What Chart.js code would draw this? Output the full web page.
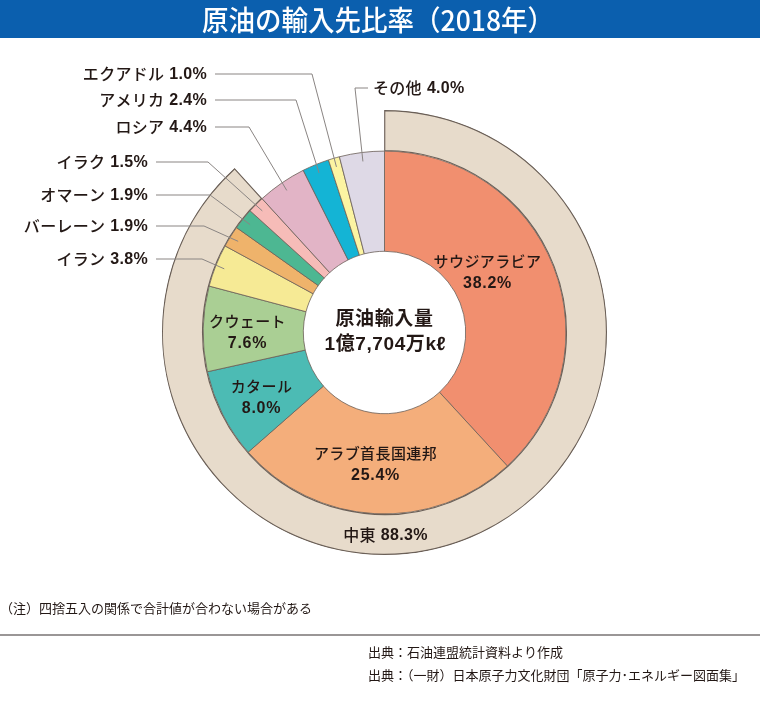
<!DOCTYPE html>
<html lang="ja">
<head>
<meta charset="utf-8">
<title>原油の輸入先比率（2018年）</title>
<script src="https://cdn.jsdelivr.net/npm/chart.js@4/dist/chart.umd.min.js"></script>
<style>
  html, body { margin: 0; padding: 0; background: #fff; }
  #wrap { position: relative; width: 760px; height: 707px; }
</style>
</head>
<body>
<div id="wrap"><canvas id="oilChart" width="760" height="707"></canvas></div>
<script>
'use strict';

// data
const countries = ['サウジアラビア', 'アラブ首長国連邦', 'カタール', 'クウェート', 'イラン', 'バーレーン', 'オマーン', 'イラク', 'ロシア', 'アメリカ', 'エクアドル', 'その他'];
const shares = [38.2, 25.4, 8.0, 7.6, 3.8, 1.9, 1.9, 1.5, 4.4, 2.4, 1.0, 4.0];
const regionLabels = ['中東', ''];
const regionShares = [88.3, 11.8];

const titleText = '原油の輸入先比率（2018年）';
const centerLines = ['原油輸入量', '1億7,704万kℓ'];
const noteText = '（注）四捨五入の関係で合計値が合わない場合がある';
const sourceLines = ['出典：石油連盟統計資料より作成', '出典：（一財）日本原子力文化財団「原子力･エネルギー図面集」'];

// colours
const sliceColors = ['#F18F6F', '#F4AE7B', '#4CBBB4', '#AACF94', '#F6EA95', '#EFB36B', '#4DB792', '#F6BCB8', '#E2B4C6', '#14B4D5', '#FCF4A2', '#DED9E6'];
const ringColor = '#E7DBCB';
const edgeColor = '#6B6058';
const textColor = '#231815';
const lineColor = '#8A8583';

// label layout (index into countries -> label position)
const insideLabels = [
    { i: 0, dx: 103, dy: -71 },
    { i: 1, dx: -9, dy: 121 },
    { i: 2, dx: -123, dy: 54 },
    { i: 3, dx: -137, dy: -11 }
];
const outsideLabels = [
    { i: 10, right: 207, y: 74, elbow: 312 },
    { i: 9, right: 207, y: 100, elbow: 296 },
    { i: 8, right: 207, y: 127, elbow: 249 },
    { i: 7, right: 148, y: 162, elbow: 208 },
    { i: 6, right: 148, y: 195, elbow: 210 },
    { i: 5, right: 148, y: 226, elbow: 204 },
    { i: 4, right: 148, y: 259, elbow: 202 }
];
const otherLabel = { i: 11, left: 373, y: 88, elbow: 355 };

const pct = v => v.toFixed(1) + '%';
const cjkFont = (size, weight) => `${weight || 500} ${size}px "Noto Sans CJK JP", sans-serif`;
const numFont = (size, weight) => `${weight || 700} ${size}px "Liberation Sans", "Noto Sans CJK JP", sans-serif`;

function fitText(ctx, text, x, y, width, align) {
    // squeeze text horizontally into a target width (condensed look)
    const w = ctx.measureText(text).width;
    const sx = Math.min(1, width / w);
    ctx.save();
    ctx.translate(x, y);
    ctx.scale(sx, 1);
    ctx.textAlign = align;
    ctx.fillText(text, 0, 0);
    ctx.restore();
}

function spaced(ctx, px) {
    if ('letterSpacing' in ctx) ctx.letterSpacing = px + 'px';
}

// name in gothic, value in a Helvetica-like face
function drawPair(ctx, name, value, x, y, align, size) {
    ctx.save();
    ctx.textAlign = 'left';
    ctx.font = cjkFont(size, 500);
    spaced(ctx, 0.3);
    const wn = ctx.measureText(name).width;
    ctx.font = numFont(size, 700);
    spaced(ctx, 0.3);
    const wv = ctx.measureText(value).width;
    const gap = 5;
    let x0 = x;
    if (align === 'right') x0 = x - (wn + gap + wv);
    else if (align === 'center') x0 = x - (wn + gap + wv) / 2;
    ctx.font = cjkFont(size, 500);
    spaced(ctx, 0.3);
    ctx.fillText(name, x0, y);
    ctx.font = numFont(size, 700);
    spaced(ctx, 0.3);
    ctx.fillText(value, x0 + wn + gap, y + 1);
    ctx.restore();
}

const decorPlugin = {
    id: 'decor',
    beforeDraw(chart) {
        const ctx = chart.ctx;
        ctx.save();
        ctx.fillStyle = '#fff';
        ctx.fillRect(0, 0, chart.width, chart.height);
        // title bar
        ctx.fillStyle = '#0B5FAE';
        ctx.fillRect(0, 0, chart.width, 38);
        ctx.fillStyle = '#fff';
        ctx.font = cjkFont(28, 500);
        ctx.textBaseline = 'middle';
        fitText(ctx, titleText, 378, 20, 352, 'center');
        ctx.restore();
    },
    afterDraw(chart) {
        const ctx = chart.ctx;
        const meta = chart.getDatasetMeta(1);
        const ring = chart.getDatasetMeta(0).data[0];
        const cx = ring.x, cy = ring.y;

        const anchor = i => {
            const arc = meta.data[i];
            const a = (arc.startAngle + arc.endAngle) / 2;
            const r = arc.outerRadius - 9;
            return { x: arc.x + Math.cos(a) * r, y: arc.y + Math.sin(a) * r };
        };

        ctx.save();
        ctx.textBaseline = 'middle';
        ctx.fillStyle = textColor;

        // leader lines
        ctx.strokeStyle = lineColor;
        ctx.lineWidth = 1;
        outsideLabels.forEach(l => {
            const p = anchor(l.i);
            ctx.beginPath();
            ctx.moveTo(l.right + 8, l.y);
            ctx.lineTo(l.elbow, l.y);
            ctx.lineTo(p.x, p.y);
            ctx.stroke();
            drawPair(ctx, countries[l.i], pct(shares[l.i]), l.right, l.y, 'right', 16);
        });
        const po = anchor(otherLabel.i);
        ctx.beginPath();
        ctx.moveTo(otherLabel.left - 5, otherLabel.y);
        ctx.lineTo(otherLabel.elbow, otherLabel.y);
        ctx.lineTo(po.x, po.y);
        ctx.stroke();
        drawPair(ctx, countries[otherLabel.i], pct(shares[otherLabel.i]), otherLabel.left, otherLabel.y, 'left', 16);

        // labels inside slices
        ctx.textAlign = 'center';
        insideLabels.forEach(l => {
            ctx.font = cjkFont(15, 500);
            spaced(ctx, 0.4);
            ctx.fillText(countries[l.i], cx + l.dx, cy + l.dy);
            ctx.font = numFont(16, 700);
            spaced(ctx, 0.7);
            ctx.fillText(pct(shares[l.i]), cx + l.dx, cy + l.dy + 22);
        });

        // middle east ring label
        drawPair(ctx, regionLabels[0], pct(regionShares[0]), cx + 1, cy + 202, 'center', 16);

        // centre text
        ctx.textAlign = 'center';
        ctx.font = `700 19px "Liberation Sans", "Noto Sans CJK JP", sans-serif`;
        spaced(ctx, 0.6);
        ctx.fillText(centerLines[0], cx, cy - 13);
        ctx.fillText(centerLines[1], cx + 1, cy + 12);

        // note and sources
        spaced(ctx, 0);
        ctx.font = cjkFont(13, 400);
        ctx.textBaseline = 'middle';
        fitText(ctx, noteText, 0, 608, 316, 'left');
        ctx.strokeStyle = '#9A9696';
        ctx.lineWidth = 2;
        ctx.beginPath();
        ctx.moveTo(0, 635);
        ctx.lineTo(chart.width, 635);
        ctx.stroke();
        fitText(ctx, sourceLines[0], 368, 652, 206, 'left');
        fitText(ctx, sourceLines[1], 368, 675, 388, 'left');
        ctx.restore();
    }
};

const chart = new Chart(document.getElementById('oilChart'), {
    type: 'doughnut',
    data: {
        labels: countries,
        datasets: [
            {
                label: '地域',
                data: regionShares,
                backgroundColor: [ringColor, 'rgba(0,0,0,0)'],
                borderColor: [edgeColor, 'rgba(0,0,0,0)'],
                borderWidth: [0.8, 0],
                borderAlign: 'inner',
                weight: 41
            },
            {
                label: '輸入先',
                data: shares,
                backgroundColor: sliceColors,
                borderColor: edgeColor,
                borderWidth: 0.8,
                weight: 100
            }
        ]
    },
    options: {
        responsive: false,
        animation: false,
        cutout: '36.5%',
        layout: {
            padding: { left: 162, right: 153, top: 110, bottom: 152 }
        },
        plugins: {
            legend: { display: false },
            tooltip: { enabled: false }
        }
    },
    plugins: [decorPlugin]
});
</script>
</body>
</html>
